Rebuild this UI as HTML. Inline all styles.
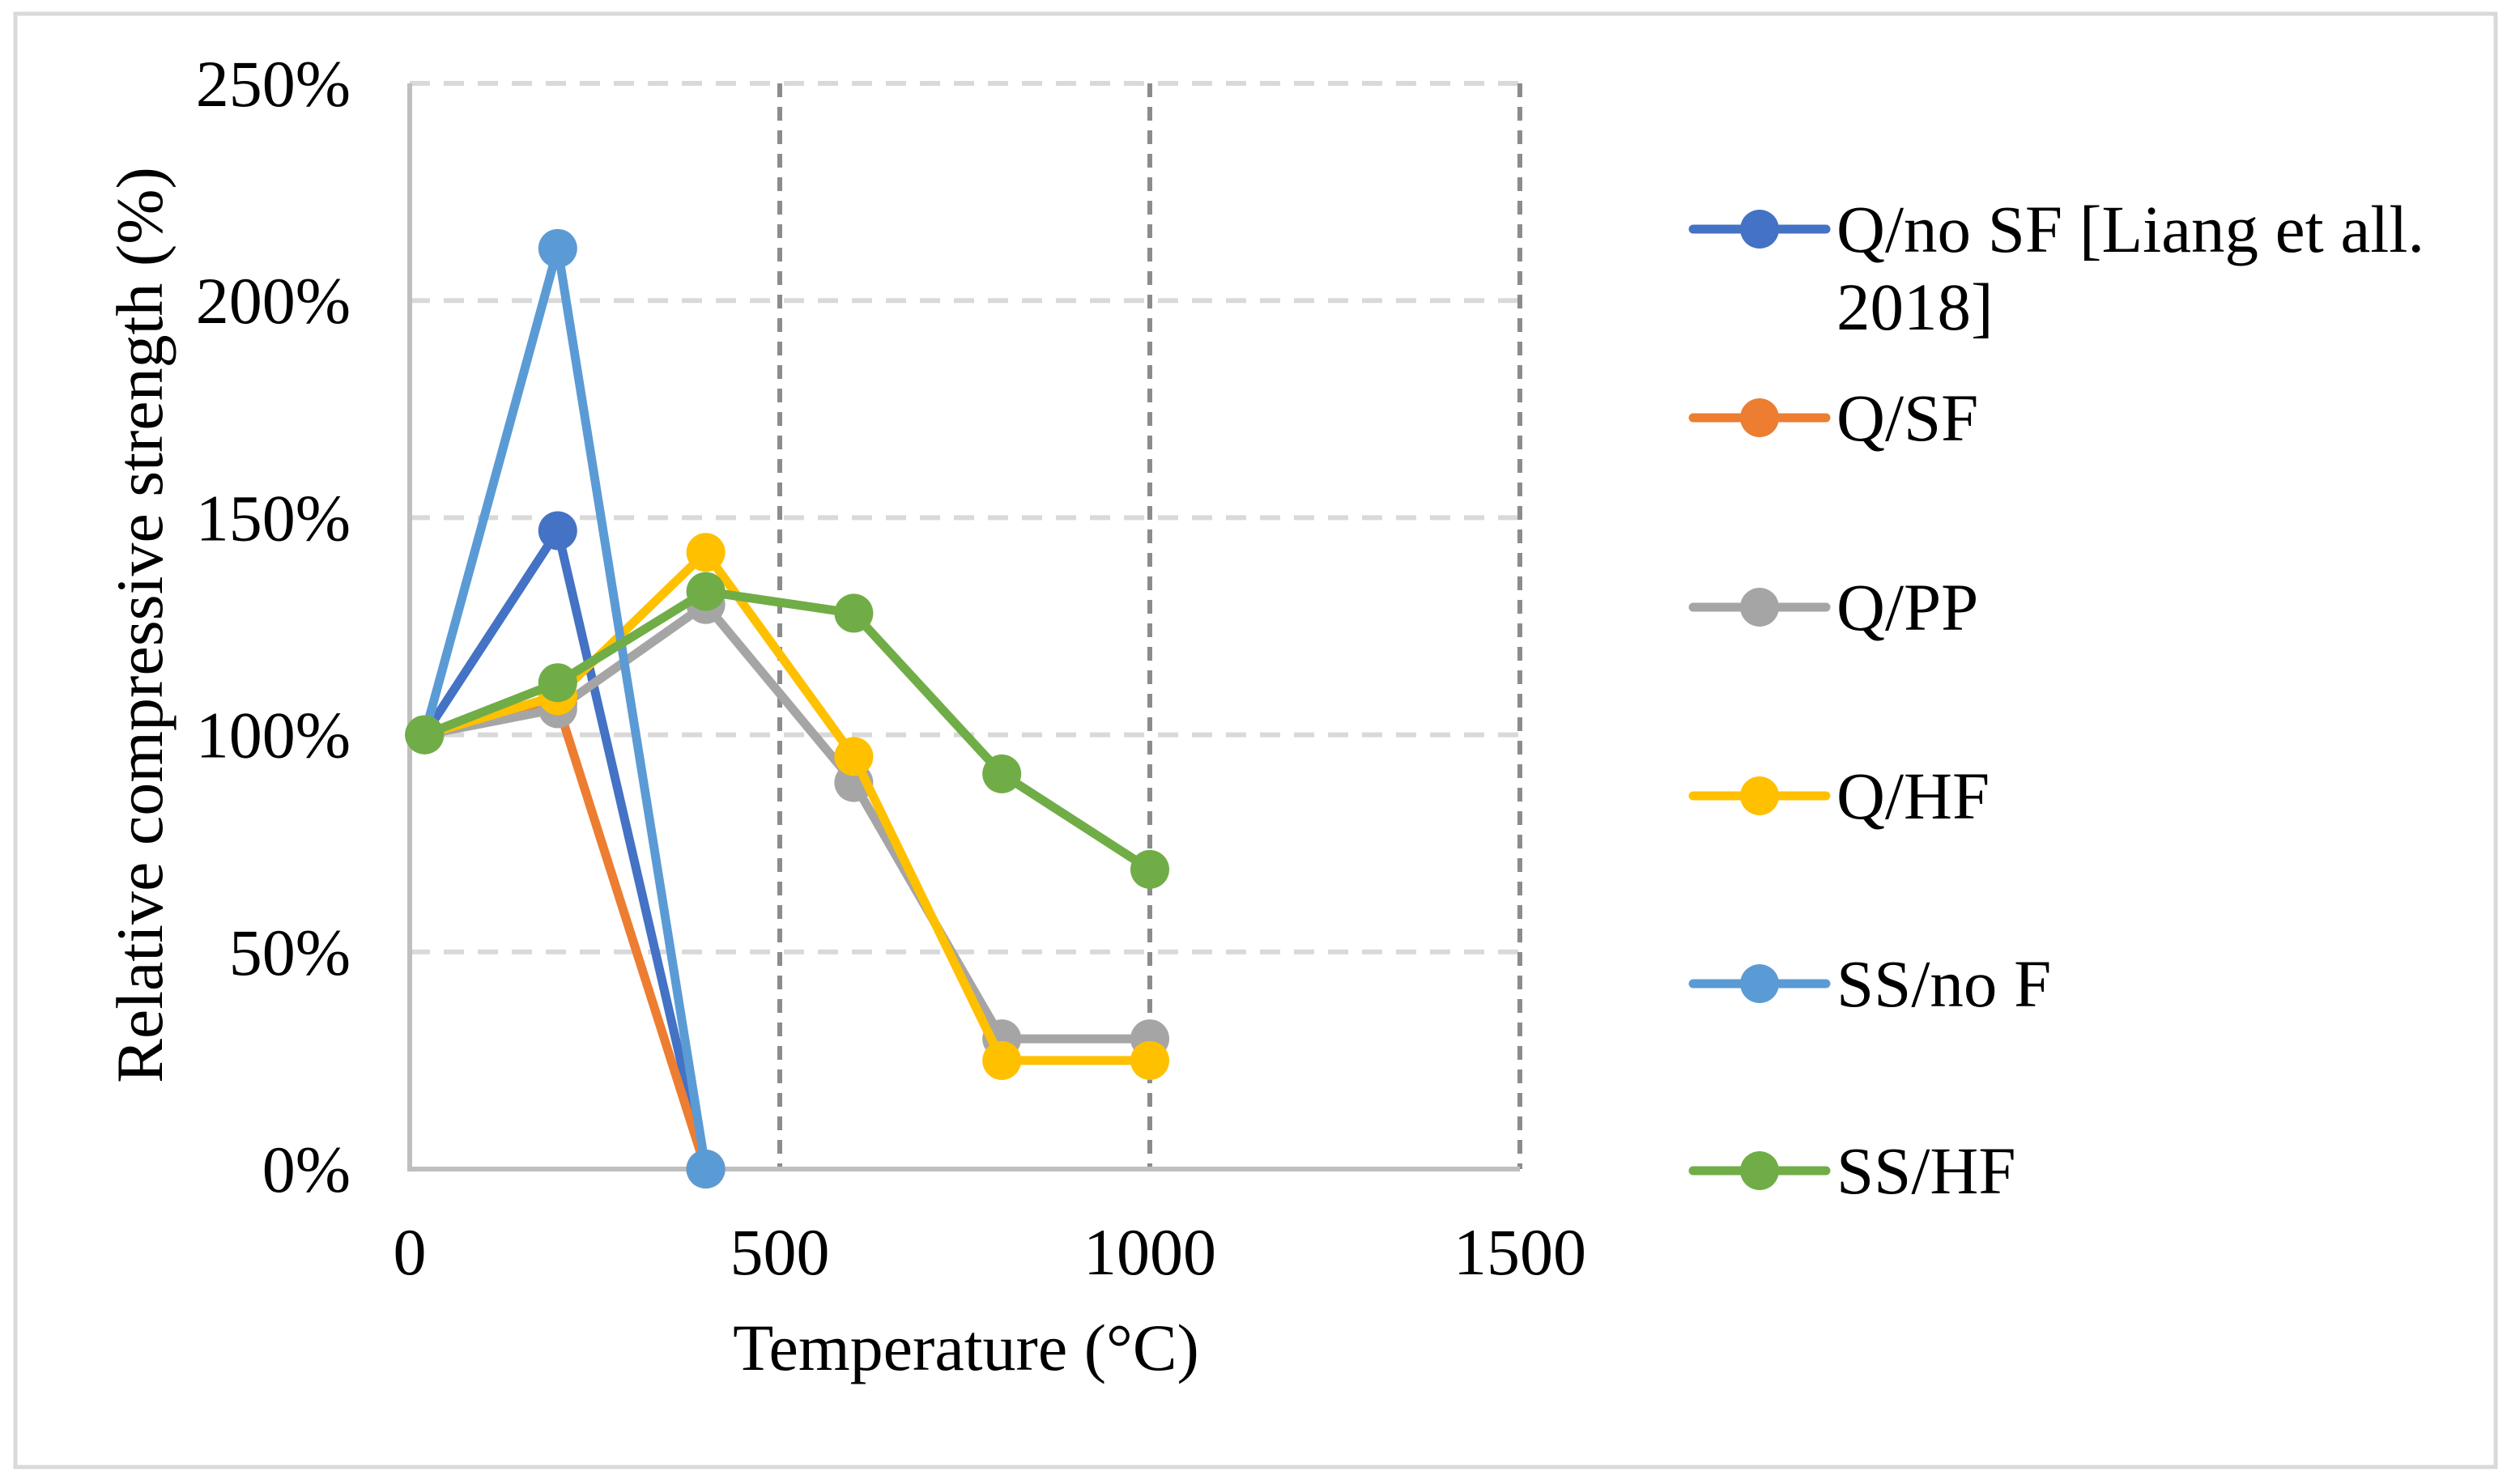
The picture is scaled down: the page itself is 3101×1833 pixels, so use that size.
<!DOCTYPE html>
<html><head><meta charset="utf-8">
<style>
html,body{margin:0;padding:0;background:#fff;}
svg{display:block;font-family:"Liberation Serif",serif;}
</style></head>
<body>
<svg id="chart" width="3101" height="1833" viewBox="0 0 3101 1833" xmlns="http://www.w3.org/2000/svg">
<rect x="19" y="17" width="3063" height="1795" fill="#fff" stroke="#d9d9d9" stroke-width="5"/>
<g id="grid"></g>
<g id="axes"></g>
<g id="series"></g>
<g id="legend"></g>
<text transform="translate(200,772) rotate(-90)" text-anchor="middle" font-size="82">Relative compressive strength (%)</text>
<text x="1193" y="1692" text-anchor="middle" font-size="82">Temperature (°C)</text>
</svg>
<script>
const xTicks=[0,500,1000,1500];
const yTicks=[0,50,100,150,200,250];
const yTickLabels=["0%","50%","100%","150%","200%","250%"];
const seriesNames=["Q/no SF [Liang et all. 2018]","Q/SF","Q/PP","Q/HF","SS/no F","SS/HF"];
const seriesColors=["#4472C4","#ED7D31","#A5A5A5","#FFC000","#5B9BD5","#70AD47"];
const tempShort=[20,200,400];
const tempLong=[20,200,400,600,800,1000];
const qNoSF=[100,147,0];
const qSF=[100,107,0];
const qPP=[100,106,130,89,30,30];
const qHF=[100,109,142,95,25,25];
const ssNoF=[100,212,0];
const ssHF=[100,112,133,128,91,69];

const NS="http://www.w3.org/2000/svg";
const X0=506,X1=1877,Y0=1444,Y1=103;
function xs(v){return X0+(v-0)/(1500-0)*(X1-X0);}
function ys(v){return Y0-(v-0)/(250-0)*(Y0-Y1);}
function mk(tag,attrs,parent){const e=document.createElementNS(NS,tag);for(const k in attrs)e.setAttribute(k,attrs[k]);parent.appendChild(e);return e;}
const grid=document.getElementById('grid'),axes=document.getElementById('axes'),ser=document.getElementById('series'),leg=document.getElementById('legend');

yTicks.forEach((v,i)=>{
  if(v>0){const l=mk('line',{x1:X0,x2:X1,y1:ys(v),y2:ys(v),stroke:'#d9d9d9','stroke-width':6,'stroke-dasharray':'25 17'},grid);
  
  }
  const t=mk('text',{x:433,y:ys(v)+28,'text-anchor':'end','font-size':82},axes);
  t.textContent=yTickLabels[i];
  
  
});
xTicks.forEach(v=>{
  if(v>0){const l=mk('line',{x1:xs(v),x2:xs(v),y1:Y1,y2:Y0,stroke:'#8c8c8c','stroke-width':6,'stroke-dasharray':'17 12'},grid);
  
  }
  const t=mk('text',{x:xs(v),y:1574,'text-anchor':'middle','font-size':82},axes);
  t.textContent=String(v);
  
  
});
const ya=mk('line',{x1:X0,x2:X0,y1:Y1,y2:Y0+3,stroke:'#bfbfbf','stroke-width':6},axes);


const xa=mk('line',{x1:X0-3,x2:X1,y1:Y0,y2:Y0,stroke:'#bfbfbf','stroke-width':6},axes);



const allData=[[tempShort,qNoSF],[tempShort,qSF],[tempLong,qPP],[tempLong,qHF],[tempShort,ssNoF],[tempLong,ssHF]];
allData.forEach((d,si)=>{
  const g=mk('g',{},ser);
  
  
  const pts=d[0].map((x,i)=>xs(x)+','+ys(d[1][i])).join(' ');
  const pl=mk('polyline',{points:pts,fill:'none',stroke:seriesColors[si],'stroke-width':11,'stroke-linejoin':'round','stroke-linecap':'round'},g);
  
  
  d[0].forEach((x,i)=>{
    const c=mk('circle',{cx:xs(x),cy:ys(d[1][i]),r:24,fill:seriesColors[si]},g);
    
    
  });
});

const legY=[283,516,750,983,1215,1446];
seriesNames.forEach((n,i)=>{
  const g=mk('g',{},leg);
  
  
  mk('line',{x1:2091,x2:2255,y1:legY[i],y2:legY[i],stroke:seriesColors[i],'stroke-width':11,'stroke-linecap':'round'},g);
  mk('circle',{cx:2173,cy:legY[i],r:24,fill:seriesColors[i]},g);
  const t=mk('text',{x:2268,y:legY[i]+28,'font-size':83},g);
  if(i===0){
    t.textContent='Q/no SF [Liang et all.';
    const t2=mk('text',{x:2268,y:legY[i]+124,'font-size':83},g);
    t2.textContent='2018]';
    
    
  } else t.textContent=n;
  
  
});
</script>
</body></html>
